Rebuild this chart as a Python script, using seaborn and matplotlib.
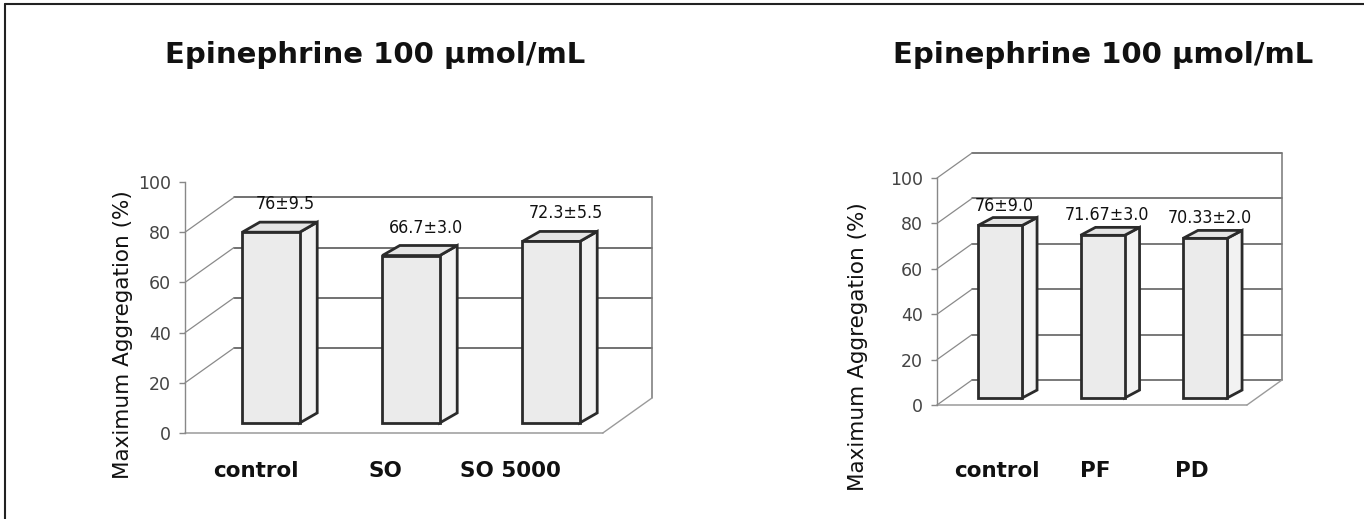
import numpy as np
import pandas as pd
import matplotlib
matplotlib.use("Agg")
import matplotlib.pyplot as plt
import matplotlib.transforms as mtransforms
from matplotlib.patches import Polygon
from matplotlib.lines import Line2D
import seaborn as sns

# ---------------- data ----------------
title_text = "Epinephrine 100 µmol/mL"
ylabel_text = "Maximum Aggregation (%)"
yticks = [0, 20, 40, 60, 80, 100]

left_categories = ["control", "SO", "SO 5000"]
left_values = [76, 66.7, 72.3]
left_labels = ["76±9.5", "66.7±3.0", "72.3±5.5"]

right_categories = ["control", "PF", "PD"]
right_values = [76, 71.67, 70.33]
right_labels = ["76±9.0", "71.67±3.0", "70.33±2.0"]

# ---------------- style ----------------
W, H = 1364, 519
sns.set_theme(style="white")
plt.rcParams["font.family"] = ["DejaVu Sans"]

FRONT = "#ebebeb"
SIDE = "#f2f2f2"
TOP = "#e4e4e4"
EDGE = "#2b2b2b"

fig = plt.figure(figsize=(W / 100, H / 100), dpi=100)
fig.patch.set_facecolor("white")


def make_axes(cfg):
    x0px, sx, y0px, sy = cfg["x0px"], cfg["sx"], cfg["y0px"], cfg["sy"]
    xlim, ylim = cfg["xlim"], cfg["ylim"]
    left = x0px + sx * xlim[0]
    right = x0px + sx * xlim[1]
    bottom = y0px - sy * ylim[0]
    top = y0px - sy * ylim[1]
    ax = fig.add_axes([left / W, (H - bottom) / H, (right - left) / W, (bottom - top) / H])
    ax.set_facecolor("none")
    return ax


def draw_panel(cats, vals, labels, cfg):
    ax = make_axes(cfg)
    df = pd.DataFrame({"cat": cats, "val": vals})
    sns.barplot(data=df, x="cat", y="val", ax=ax, width=cfg["bar_w"], color=FRONT,
                saturation=1, edgecolor=EDGE, linewidth=2.0, errorbar=None, zorder=6)
    ax.set_xlim(*cfg["xlim"])
    ax.set_ylim(*cfg["ylim"])

    fx0, fx1 = cfg["front_x0"], cfg["front_x1"]
    Dx, Dy = cfg["depth"]
    lx, ly = cfg["lift"]
    bdx, bdy = cfg["bar_depth"]

    # back wall
    gkw = dict(color=cfg["grid_col"], lw=1.1, zorder=1, clip_on=False)
    dkw = dict(color="#8a8a8a", lw=0.9, zorder=1, clip_on=False)
    for lev in cfg["wall_levels"]:
        ax.plot([fx0 + Dx, fx1 + Dx], [lev + Dy, lev + Dy], **gkw)
    for lev in cfg["diag_levels"]:
        ax.plot([fx0, fx0 + Dx], [lev, lev + Dy], **dkw)
    ax.plot([fx1 + Dx, fx1 + Dx], [Dy, cfg["wall_top"] + Dy], color="#777777", lw=1.1,
            zorder=1, clip_on=False)
    # floor
    ax.plot([fx0, fx1], [0, 0], color="#9a9a9a", lw=1.1, zorder=1, clip_on=False)
    ax.plot([fx1, fx1 + Dx], [0, Dy], color="#9a9a9a", lw=1.0, zorder=1, clip_on=False)

    # bars: move front faces onto their depth plane and add side/top faces
    bars = [p for p in ax.patches]
    for p, lbl in zip(bars, labels):
        p.set_x(p.get_x() + lx)
        p.set_y(p.get_y() + ly)
        p.set_joinstyle("miter")
        x0 = p.get_x()
        w = p.get_width()
        b = p.get_y()
        h = p.get_height()
        side = Polygon([(x0 + w, b), (x0 + w + bdx, b + bdy), (x0 + w + bdx, b + h + bdy),
                        (x0 + w, b + h)], closed=True, fc=SIDE, ec=EDGE, lw=2.0,
                       joinstyle="miter", zorder=5)
        top = Polygon([(x0, b + h), (x0 + bdx, b + h + bdy), (x0 + w + bdx, b + h + bdy),
                       (x0 + w, b + h)], closed=True, fc=TOP, ec=EDGE, lw=2.0,
                      joinstyle="miter", zorder=5)
        ax.add_patch(side)
        ax.add_patch(top)
        ax.annotate(lbl, xy=(x0 + w / 2 + bdx / 2, b + h + bdy),
                    xytext=(cfg["lbl_dx"], cfg["lbl_gap"]), textcoords="offset pixels",
                    ha="center", va="baseline", fontsize=12.8, family="DejaVu Sans",
                    fontstretch="condensed", color="#111111", zorder=7)

    # axes styling
    for s in ["top", "right", "bottom"]:
        ax.spines[s].set_visible(False)
    ax.spines["left"].set_position(("data", fx0))
    ax.spines["left"].set_bounds(0, 100)
    ax.spines["left"].set_color("#888888")
    ax.spines["left"].set_linewidth(1.0)
    ax.set_yticks(yticks)
    ax.set_yticklabels([str(t) for t in yticks])
    ax.tick_params(axis="y", direction="out", length=4, width=1, color="#888888",
                   labelsize=12.5, labelcolor="#444444", pad=6, left=True)
    ax.tick_params(axis="x", length=0, labelsize=15.5, labelcolor="#111111",
                   pad=cfg["xpad"])
    for t, off in zip(ax.get_xticklabels(), cfg["xlabel_shift"]):
        t.set_fontweight("bold")
        t.set_transform(t.get_transform() +
                        mtransforms.ScaledTranslation(off / 100, 0, fig.dpi_scale_trans))
    ax.set_xlabel("")
    ax.set_ylabel(ylabel_text, fontsize=15.5, color="#111111")
    ax.yaxis.set_label_coords(*cfg["ylabel_xy"])
    ax.grid(False)
    return ax


left_cfg = dict(x0px=257, sx=140, y0px=433, sy=2.51, xlim=(-0.6, 2.95), ylim=(-8, 115),
                front_x0=-0.514, front_x1=2.47, depth=(0.35, 13.9), lift=(0.10, 4.0),
                bar_w=0.41, bar_depth=(0.125, 4.0), wall_levels=[20, 40, 60, 80],
                diag_levels=[20, 40, 60, 80], wall_top=80, grid_col="#4a4a4a",
                lbl_dx=6, lbl_gap=13, xpad=6, ylabel_xy=(-0.0805, 0.383),
                xlabel_shift=[-1, -12, -27])
right_cfg = dict(x0px=990, sx=102.5, y0px=405, sy=2.27, xlim=(-0.6, 2.95), ylim=(-21, 115),
                 front_x0=-0.517, front_x1=2.507, depth=(0.341, 11.0), lift=(0.098, 3.08),
                 bar_w=0.43, bar_depth=(0.146, 3.5), wall_levels=[0, 20, 40, 60, 80, 100],
                 diag_levels=[0, 20, 40, 60, 80, 100], wall_top=100, grid_col="#555555",
                 lbl_dx=-3, lbl_gap=7, xpad=6, ylabel_xy=(-0.166, 0.342),
                 xlabel_shift=[7, 3, -3])

draw_panel(left_categories, left_values, left_labels, left_cfg)
draw_panel(right_categories, right_values, right_labels, right_cfg)

# titles
fig.text(375 / W, 1 - 63 / H, title_text, ha="center", va="baseline", fontsize=21,
         fontweight="bold", color="#111111")
fig.text(1103 / W, 1 - 63 / H, title_text, ha="center", va="baseline", fontsize=21,
         fontweight="bold", color="#111111")

# frame lines (top and left) of the original figure box
fig.add_artist(Line2D([5 / W, 5 / W], [0, 1 - 4 / H], transform=fig.transFigure,
                      color="#222222", lw=1.5))
fig.add_artist(Line2D([5 / W, 1], [1 - 4 / H, 1 - 4 / H], transform=fig.transFigure,
                      color="#222222", lw=1.5))

fig.savefig("out.png", dpi=100, facecolor="white")
